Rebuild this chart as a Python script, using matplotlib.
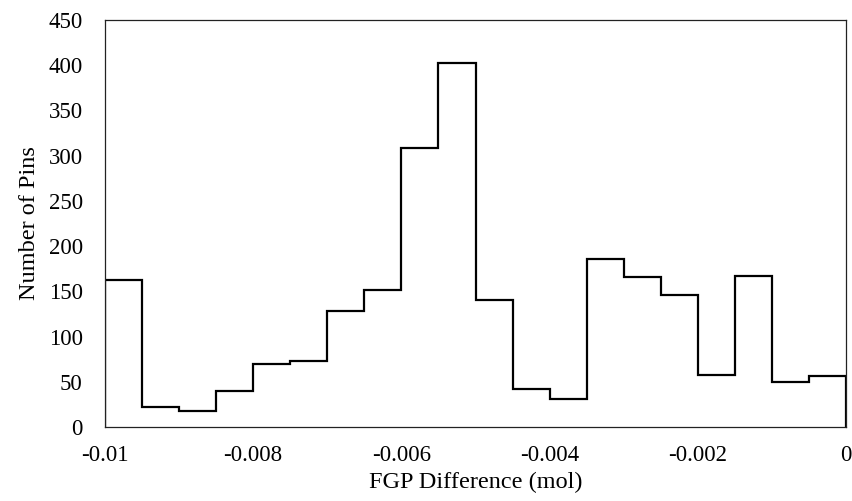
import numpy as np
import matplotlib.pyplot as plt

plt.rcParams['font.family'] = ['Liberation Serif', 'DejaVu Serif']

# bin edges (mol) and counts per bin
bin_edges = [-0.01, -0.0095, -0.009, -0.0085, -0.008, -0.0075, -0.007,
             -0.0065, -0.006, -0.0055, -0.005, -0.0045, -0.004, -0.0035,
             -0.003, -0.0025, -0.002, -0.0015, -0.001, -0.0005, 0.0]
pin_counts = [163, 22, 18, 40, 70, 73, 128, 152, 309, 403,
              140, 42, 31, 186, 166, 146, 57, 167, 50, 56]

x_ticks = [-0.01, -0.008, -0.006, -0.004, -0.002, 0]
x_tick_labels = ['-0.01', '-0.008', '-0.006', '-0.004', '-0.002', '0']
y_ticks = [0, 50, 100, 150, 200, 250, 300, 350, 400, 450]

fig = plt.figure(figsize=(8.52, 5.01), dpi=100)
ax = fig.add_axes([0.1232, 0.1477, 0.8698, 0.8123])

ax.stairs(pin_counts, bin_edges, baseline=0, color='black', linewidth=1.6)

ax.set_xlim(-0.01, 0)
ax.set_ylim(0, 450)
ax.set_xticks(x_ticks)
ax.set_xticklabels(x_tick_labels)
ax.set_yticks(y_ticks)
ax.tick_params(axis='both', length=0, labelsize=16.5)
ax.tick_params(axis='x', pad=13)
ax.tick_params(axis='y', pad=16)

for s in ax.spines.values():
    s.set_linewidth(0.9)
    s.set_color('#222222')

ax.set_xlabel('FGP Difference (mol)', fontsize=17.5, labelpad=4)
ax.set_ylabel('Number of Pins', fontsize=17.5, labelpad=6)

fig.savefig('out.png', dpi=100)
